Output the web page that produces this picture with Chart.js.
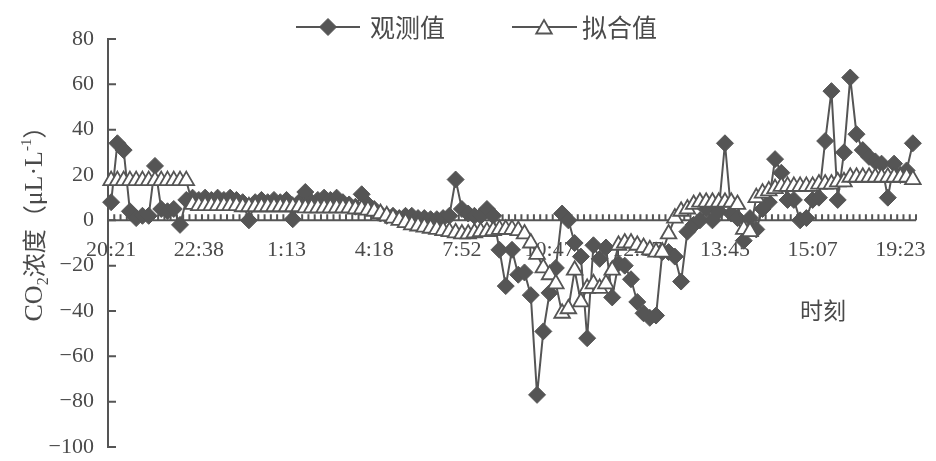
<!DOCTYPE html>
<html>
<head>
<meta charset="utf-8">
<script src="https://cdn.jsdelivr.net/npm/chart.js@4/dist/chart.umd.min.js"></script>
<style>
html,body{margin:0;padding:0;background:#fff;}
#wrap{width:936px;height:461px;}
</style>
</head>
<body>
<div id="wrap"><canvas id="c" width="936" height="461"></canvas></div>
<script>
// ---- data ----
const tickLabels = ['20:21','22:38','1:13','4:18','7:52','10:47','12:17','13:45','15:07','19:23'];
const labelStep = 14;
const seriesNames = ['观测值','拟合值'];
const yTicks = [80,60,40,20,0,-20,-40,-60,-80,-100];
const xTitle = '时刻';

const observed = [
  8, 34, 31, 4, 1, 2, 2, 24, 5, 4,
  5, -2, 9, 10, 9, 10, 9, 10, 9, 10,
  9, 8, 0, 8, 9, 8, 9, 8, 9, 0.5,
  8, 12.5, 8, 9, 10, 9, 10, 8, 7, 6,
  11.5, 7, 5, 3, 2, 2, 1, 2, 2, 1,
  1, 0.5, 0.5, 1, 2, 18, 5, 3, 2, 2,
  5, 2, -13, -29, -13, -24, -23, -33, -77, -49,
  -32, -21, 3, 0, -10, -16, -52, -11, -17, -12,
  -34, -19, -20, -26, -36, -41, -43, -42, -14, -14,
  -16, -27, -5, -2, 0, 5, 0, 4, 34, 3,
  1, -9, 1, -4, 5, 8, 27, 21, 9, 9,
  0, 1, 9, 10, 35, 57, 9, 30, 63, 38,
  31, 28, 26, 25, 10, 25, 20, 22, 34
];

const fitted = [
  17.5, 17.5, 17.5, 17.5, 17.5, 17.5, 17.5, 17.5, 17.5, 17.5,
  17.5, 17.5, 17.5, 7, 6.5, 6.5, 6.5, 6.5, 6.5, 6.5,
  6.5, 6, 6, 6, 6, 6, 6, 6, 6, 6,
  6, 5.5, 5.5, 5.5, 5.5, 5.5, 5.5, 5.5, 5.5, 5,
  5, 4.5, 4, 3, 2, 1, 0, -1, -2, -2.5,
  -3, -3.5, -4, -4.5, -5, -5.5, -6, -6, -5.5, -5,
  -5, -4.5, -4, -4, -4, -4.5, -6, -10, -15, -21,
  -24, -28, -41, -39, -22, -36, -30, -28, -30, -28,
  -22, -11, -10, -10, -11, -12, -13, -14, -14, -6,
  1, 4, 5, 7, 8, 8, 8, 8, 8, 8,
  7, -4, -5, 10, 12, 13, 14, 15, 15, 15,
  15, 15, 15, 16, 16, 16, 17, 17, 19, 19,
  19, 19, 19, 19, 19, 19, 19, 19, 18
];

const categories = observed.map((_, i) => (i % labelStep === 0 ? (tickLabels[i / labelStep] || '') : ''));

// ---- styles ----
const INK = '#555555';
const TXT = '#4a4a4a';
const SERIF = "'Liberation Serif', 'DejaVu Serif', serif";
const CJK = "'Noto Sans CJK SC', 'Noto Sans', sans-serif";

function diamond(ctx, x, y, r) {
  ctx.beginPath();
  ctx.moveTo(x - r, y); ctx.lineTo(x, y - r); ctx.lineTo(x + r, y); ctx.lineTo(x, y + r);
  ctx.closePath();
}
function triangle(ctx, x, y, r) {
  const s = Math.sin(Math.PI * 2 / 3) * r;
  ctx.beginPath();
  ctx.moveTo(x, y - r); ctx.lineTo(x + s, y + r / 2); ctx.lineTo(x - s, y + r / 2);
  ctx.closePath();
}

const decor = {
  id: 'decor',
  beforeDatasetsDraw(chart) {
    const {ctx, scales: {x, y}} = chart;
    const y0 = y.getPixelForValue(0);
    const left = x.left, right = x.right;
    ctx.save();
    ctx.strokeStyle = INK;
    ctx.lineWidth = 2;
    // y axis
    ctx.beginPath();
    ctx.moveTo(left, y.getPixelForValue(yTicks[0]));
    ctx.lineTo(left, y.getPixelForValue(yTicks[yTicks.length - 1]));
    yTicks.forEach(v => {
      const py = y.getPixelForValue(v);
      ctx.moveTo(left - 1, py); ctx.lineTo(left + 8, py);
    });
    ctx.stroke();
    // x axis at 0 with upward ticks between categories
    ctx.beginPath();
    ctx.moveTo(left, y0); ctx.lineTo(right, y0);
    const n = observed.length;
    for (let i = 0; i <= n; i++) {
      let px;
      if (i === 0) px = left;
      else if (i === n) px = right;
      else px = (x.getPixelForValue(i - 1) + x.getPixelForValue(i)) / 2;
      ctx.moveTo(px, y0); ctx.lineTo(px, y0 - 6);
    }
    ctx.stroke();
    ctx.restore();
  },
  afterDraw(chart) {
    const {ctx} = chart;
    ctx.save();
    // legend
    const ly = 27;
    ctx.strokeStyle = INK; ctx.lineWidth = 2;
    ctx.beginPath(); ctx.moveTo(296, ly); ctx.lineTo(360, ly); ctx.stroke();
    ctx.fillStyle = INK; diamond(ctx, 328, ly, 8.5); ctx.fill(); ctx.lineWidth = 1; ctx.stroke();
    ctx.lineWidth = 2;
    ctx.beginPath(); ctx.moveTo(512, ly); ctx.lineTo(577, ly); ctx.stroke();
    ctx.fillStyle = '#fff'; triangle(ctx, 544, ly + 2, 9); ctx.fill(); ctx.lineWidth = 1.8; ctx.stroke();
    ctx.fillStyle = TXT;
    ctx.font = '25px ' + CJK;
    ctx.textBaseline = 'middle';
    ctx.textAlign = 'left';
    ctx.fillText(seriesNames[0], 370, ly);
    ctx.fillText(seriesNames[1], 582, ly);
    // x title
    ctx.font = '23px ' + CJK;
    ctx.textAlign = 'center';
    ctx.fillText(xTitle, 823, 310);
    // y title (rotated), drawn piecewise for sub/superscripts
    const segs = [
      {t: 'CO', f: '26px ' + SERIF, dy: 0},
      {t: '2', f: '16px ' + SERIF, dy: 6},
      {t: '浓度', f: '24px ' + CJK, dy: 1},
      {t: '（', f: '24px ' + CJK, dy: 1},
      {t: 'μL·L', f: '26px ' + SERIF, dy: 0},
      {t: '-1', f: '15px ' + SERIF, dy: -11},
      {t: '）', f: '24px ' + CJK, dy: 1}
    ];
    let total = 0;
    segs.forEach(s => { ctx.font = s.f; s.w = ctx.measureText(s.t).width; total += s.w; });
    ctx.translate(33, 218);
    ctx.rotate(-Math.PI / 2);
    ctx.textAlign = 'left';
    ctx.textBaseline = 'alphabetic';
    let cx = -total / 2;
    segs.forEach(s => { ctx.font = s.f; ctx.fillText(s.t, cx, 9 + s.dy); cx += s.w; });
    ctx.restore();
  }
};

new Chart(document.getElementById('c').getContext('2d'), {
  type: 'line',
  data: {
    labels: categories,
    datasets: [
      {
        label: seriesNames[0], data: observed, order: 1,
        borderColor: INK, backgroundColor: INK, borderWidth: 2, tension: 0,
        pointStyle: 'rectRot', pointRadius: 8.5, pointBorderWidth: 1,
        pointBackgroundColor: INK, pointBorderColor: INK
      },
      {
        label: seriesNames[1], data: fitted, order: 0,
        borderColor: INK, backgroundColor: '#fff', borderWidth: 2, tension: 0,
        pointStyle: 'triangle', pointRadius: 9, pointBorderWidth: 1.8,
        pointBackgroundColor: '#fff', pointBorderColor: INK
      }
    ]
  },
  options: {
    responsive: false, animation: false, devicePixelRatio: 1,
    layout: {padding: {left: 0, right: 20, top: 39, bottom: 14}},
    plugins: {legend: {display: false}, tooltip: {enabled: false}},
    scales: {
      x: {
        type: 'category', offset: true, position: {y: 0},
        afterFit: s => { s.paddingLeft = 0; s.paddingRight = 0; s.paddingTop = 0; s.paddingBottom = 0; },
        grid: {display: false, drawTicks: false}, border: {display: false},
        ticks: {
          autoSkip: false, maxRotation: 0, minRotation: 0, padding: 17,
          color: TXT, font: {family: SERIF, size: 22},
          callback: (v, i) => categories[i]
        }
      },
      y: {
        min: -100, max: 80,
        afterFit: s => { s.width = 108; s.paddingTop = 0; s.paddingBottom = 0; },
        grid: {display: false, drawTicks: false}, border: {display: false},
        ticks: {
          stepSize: 20, padding: 14, color: TXT, font: {family: SERIF, size: 22},
          callback: v => String(v).replace('-', '\u2212')
        }
      }
    }
  },
  plugins: [decor]
});
</script>
</body>
</html>
